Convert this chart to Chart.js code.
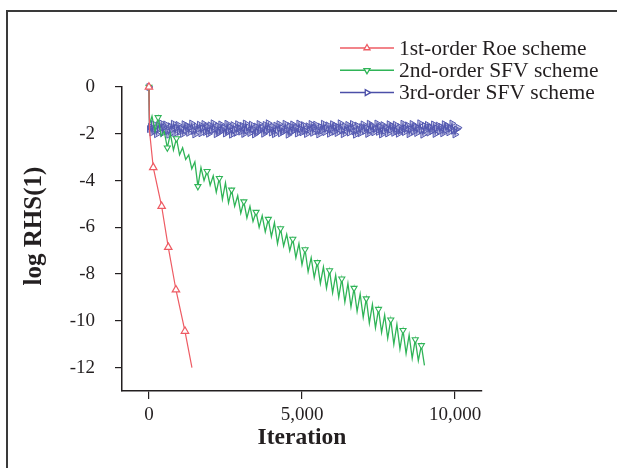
<!DOCTYPE html>
<html>
<head>
<meta charset="utf-8">
<script src="https://cdn.jsdelivr.net/npm/chart.js@4"></script>
<style>
  html, body { margin: 0; padding: 0; background: #fff; overflow: hidden; }
  .wrap { position: relative; width: 617px; height: 468px; overflow: hidden; }
  .frame {
    position: absolute; left: 6px; top: 10px; width: 640px; height: 480px;
    border-top: 2px solid #3a3a3a; border-left: 2px solid #3a3a3a;
  }
  canvas { position: absolute; left: 0; top: 0; }
</style>
</head>
<body>
<div class="wrap">
  <div class="frame"></div>
  <canvas id="rhs-chart" width="617" height="468"></canvas>
</div>
<script>
// series labels
const seriesNames = ["1st-order Roe scheme", "2nd-order SFV scheme", "3rd-order SFV scheme"];
const yTitle = "log RHS(1)";
const xTitle = "Iteration";

// 1st-order Roe
const roeIter = [0, 20, 141, 415, 631, 882, 1176, 1405];
const roeLog = [0, -1.9, -3.44, -5.1, -6.85, -8.67, -10.44, -12.0];
const roeMarks = [0, 141, 415, 631, 882, 1176];

// 2nd-order SFV (start, then every 100 iterations from 100)
const sfv2Start = [[0, 0], [20, -1.6]];
const sfv2Step = 100;
const sfv2Log = [
  -1.25, -1.9, -1.3, -2.1, -1.9, -2.6, -2.0, -2.7, -2.2, -2.9,
  -2.6, -3.1, -2.9, -3.5, -3.2, -4.25, -3.45, -4.0, -3.6, -4.2,
  -3.8, -4.5, -3.9, -4.8, -4.1, -4.95, -4.4, -5.1, -4.65, -5.4,
  -4.9, -5.6, -5.1, -5.75, -5.35, -6.0, -5.5, -6.2, -5.65, -6.4,
  -5.8, -6.7, -6.05, -6.8, -6.3, -7.0, -6.5, -7.3, -6.7, -7.6,
  -6.95, -7.9, -7.3, -8.15, -7.5, -8.4, -7.7, -8.6, -7.85, -8.8,
  -8.05, -9.0, -8.2, -9.2, -8.4, -9.4, -8.6, -9.6, -8.85, -9.85,
  -9.05, -10.1, -9.3, -10.3, -9.5, -10.5, -9.75, -10.75, -9.95, -11.0,
  -10.15, -11.2, -10.4, -11.4, -10.6, -11.6, -10.8, -11.7, -11.05, -11.9
];
const sfv2Marks = [0, 300, 600, 900, 1600, 1900, 2300, 2700, 3100, 3500, 3900, 4300,
  4700, 5100, 5500, 5900, 6300, 6700, 7100, 7500, 7900, 8300, 8700, 8900];

// 3rd-order SFV (start, then every 50 iterations from 50)
const sfv3Start = [[0, 0], [20, -1.8]];
const sfv3Step = 50;
const sfv3Log = [
  -1.70, -1.95, -1.58, -1.86, -2.02, -1.64, -1.80, -1.55, -1.97, -1.72,
  -1.60, -1.90, -2.04, -1.68, -1.83, -1.57, -1.99, -1.75, -1.62, -1.92,
  -1.78, -2.01, -1.59, -1.85, -1.66, -1.96, -1.73, -1.56, -1.88, -2.03,
  -1.69, -1.81, -1.61, -1.98, -1.76, -1.58, -1.93, -1.70, -2.00, -1.64,
  -1.87, -1.55, -1.79, -2.02, -1.67, -1.94, -1.60, -1.84, -1.74, -1.99,
  -1.57, -1.89, -1.71, -2.04, -1.63, -1.82, -1.96, -1.59, -1.77, -1.91,
  -1.66, -2.01, -1.56, -1.86, -1.73, -1.97, -1.61, -1.80, -2.03, -1.69,
  -1.93, -1.58, -1.84, -1.75, -2.00, -1.62, -1.88, -1.55, -1.79, -1.95,
  -1.70, -2.02, -1.65, -1.83, -1.59, -1.98, -1.76, -1.90, -1.57, -1.81,
  -2.04, -1.67, -1.92, -1.60, -1.85, -1.72, -1.99, -1.56, -1.78, -1.94,
  -1.63, -1.87, -2.01, -1.68, -1.82, -1.58, -1.96, -1.74, -1.61, -1.89,
  -2.03, -1.70, -1.85, -1.57, -1.93, -1.77, -1.64, -2.00, -1.80, -1.59,
  -1.91, -1.66, -1.97, -1.73, -1.55, -1.86, -2.02, -1.69, -1.83, -1.62,
  -1.95, -1.76, -1.58, -1.90, -2.04, -1.65, -1.81, -1.98, -1.71, -1.60,
  -1.88, -1.75, -2.01, -1.57, -1.84, -1.67, -1.94, -1.79, -1.56, -1.92,
  -1.70, -2.03, -1.63, -1.87, -1.74, -1.99, -1.59, -1.82, -1.68, -1.96,
  -1.61, -1.89, -2.00, -1.72, -1.85, -1.57, -1.93, -1.78, -1.64, -2.02,
  -1.80, -1.58, -1.91, -1.69, -1.97, -1.75, -1.55, -1.86, -2.04, -1.66,
  -1.83, -1.62, -1.95, -1.73, -1.88, -1.60, -2.01, -1.77, -1.65, -1.90,
  -1.71, -1.98, -1.59, -1.84, -1.67, -1.94, -1.76, -1.56, -1.87, -2.03,
  -1.81, -1.74
];

// axis ticks
const xTicks = [0, 5000, 10000];
const yTicks = [0, -2, -4, -6, -8, -10, -12];

const colors = ["#ee5b63", "#2fb457", "#4b4fa8"];
const rotations = [0, 180, 90];

function steppedSeries(start, step, values) {
  const pts = start.map((p) => ({ x: p[0], y: p[1] }));
  values.forEach((v, i) => pts.push({ x: (i + 1) * step, y: v }));
  return pts;
}

const roeData = roeIter.map((x, i) => ({ x: x, y: roeLog[i] }));
const sfv2Data = steppedSeries(sfv2Start, sfv2Step, sfv2Log);
const sfv3Data = steppedSeries(sfv3Start, sfv3Step, sfv3Log);

Chart.defaults.font.family = "'Liberation Serif', serif";
Chart.defaults.color = "#231f20";

// legend sits across the top right, partly over the plot, so draw it by hand
const legendBox = {
  id: "legendBox",
  afterDraw(chart) {
    const ctx = chart.ctx;
    chart.data.datasets.forEach((ds, i) => {
      const y = 48 + i * 22.3;
      ctx.save();
      ctx.strokeStyle = ds.borderColor;
      ctx.lineWidth = 1.5;
      ctx.beginPath();
      ctx.moveTo(340, y);
      ctx.lineTo(394, y);
      ctx.stroke();
      ctx.fillStyle = "#fff";
      ctx.lineWidth = 1.3;
      Chart.helpers.drawPoint(ctx, { pointStyle: "triangle", rotation: ds.pointRotation, radius: 3.5, borderWidth: 1.3 }, 367, y);
      ctx.fillStyle = "#231f20";
      ctx.font = "21.5px 'Liberation Serif'";
      ctx.textBaseline = "middle";
      ctx.fillText(ds.label, 399, y + 1);
      ctx.restore();
    });
    // y axis title
    ctx.save();
    ctx.translate(35, 226);
    ctx.rotate(-Math.PI / 2);
    ctx.fillStyle = "#231f20";
    ctx.font = "bold 25px 'Liberation Serif'";
    ctx.textAlign = "center";
    ctx.textBaseline = "middle";
    ctx.fillText(yTitle, 0, 0);
    ctx.restore();
  },
};

function markRadius(marks, r) {
  return (c) => (c.raw && marks.includes(c.raw.x) ? r : 0);
}

const ctx = document.getElementById("rhs-chart").getContext("2d");
new Chart(ctx, {
  type: "line",
  data: {
    datasets: [
      {
        label: seriesNames[0],
        data: roeData,
        borderColor: colors[0],
        borderWidth: 1.2,
        pointStyle: "triangle",
        pointRotation: rotations[0],
        pointRadius: markRadius(roeMarks, 4.3),
        pointBorderColor: colors[0],
        pointBackgroundColor: "#fff",
        pointBorderWidth: 1.2,
      },
      {
        label: seriesNames[1],
        data: sfv2Data,
        borderColor: colors[1],
        borderWidth: 1.3,
        pointStyle: "triangle",
        pointRotation: rotations[1],
        pointRadius: markRadius(sfv2Marks, 3.5),
        pointBorderColor: colors[1],
        pointBackgroundColor: "#fff",
        pointBorderWidth: 1.1,
      },
      {
        label: seriesNames[2],
        data: sfv3Data,
        borderColor: colors[2],
        borderWidth: 1.3,
        pointStyle: "triangle",
        pointRotation: rotations[2],
        pointRadius: 4,
        pointBorderColor: "#5358b0",
        pointBackgroundColor: "rgba(120,124,196,0.35)",
        pointBorderWidth: 1,
      },
    ],
  },
  options: {
    responsive: false,
    animation: false,
    clip: false,
    layout: { padding: { left: 0, right: 135, top: 87, bottom: 0 } },
    plugins: { legend: { display: false }, tooltip: { enabled: false } },
    elements: { line: { tension: 0 } },
    scales: {
      x: {
        type: "linear",
        min: -880,
        max: 10880,
        afterFit: (s) => { s.height = 77; },
        afterBuildTicks: (s) => { s.ticks = xTicks.map((v) => ({ value: v })); },
        border: { color: "#231f20", width: 1.5 },
        grid: { drawOnChartArea: false, color: "#231f20", tickLength: 8, lineWidth: 1.2 },
        ticks: {
          font: { size: 19 },
          padding: 5,
          maxRotation: 0,
          callback: (v) => v.toLocaleString("en-US"),
        },
        title: {
          display: true,
          text: xTitle,
          font: { size: 23.5, weight: "bold" },
          padding: { top: 0, bottom: 16 },
        },
      },
      y: {
        min: -13,
        max: 0,
        afterFit: (s) => { s.width = 122; },
        afterBuildTicks: (s) => { s.ticks = yTicks.map((v) => ({ value: v })); },
        border: { color: "#231f20", width: 1.5 },
        grid: { drawOnChartArea: false, color: "#231f20", tickLength: 7, lineWidth: 1.2 },
        ticks: { font: { size: 19 }, padding: 20 },
      },
    },
  },
  plugins: [legendBox],
});
</script>
</body>
</html>
